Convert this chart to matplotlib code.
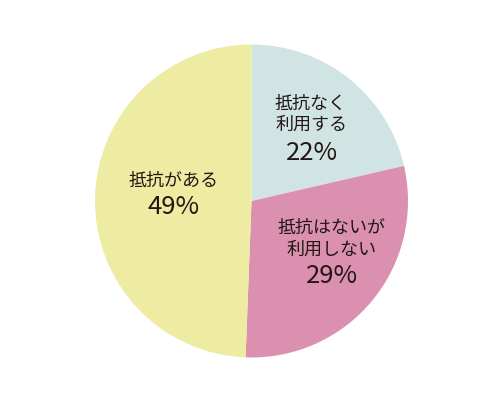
import matplotlib
matplotlib.use("Agg")
import matplotlib.pyplot as plt

plt.rcParams['font.family'] = ['Noto Sans CJK JP', 'DejaVu Sans']

labels = [["抵抗なく", "利用する"], ["抵抗はないが", "利用しない"], ["抵抗がある"]]
values = [21.4, 29.2, 49.4]
pct_labels = ["22%", "29%", "49%"]
colors = ["#d1e4e4", "#dc90b0", "#eeeba2"]

fig = plt.figure(figsize=(5, 4), dpi=100)
ax = fig.add_axes([0, 0, 1, 1])

ax.pie(values, colors=colors, startangle=90, counterclock=False,
       center=(251.5, 199), radius=156.5, frame=True,
       wedgeprops=dict(linewidth=0))
ax.set_xlim(0, 500)
ax.set_ylim(0, 400)
ax.set_aspect('equal')
ax.axis('off')

H = 400
line_pos = [[(311, 104), (311, 125)], [(331.5, 227.5), (331.5, 249.5)], [(173.8, 181)]]
pct_pos = [(312.5, 153), (332, 276), (173.8, 207)]
txtcol = '#231815'
for lines, pl, lp, (px, py) in zip(labels, pct_labels, line_pos, pct_pos):
    for s, (lx, ly) in zip(lines, lp):
        ax.text(lx, H - ly, s, ha='center', va='center', fontsize=13, color=txtcol)
    ax.text(px, H - py, pl, ha='center', va='center', fontsize=18.5, color=txtcol)

fig.savefig("out.png", dpi=100)
